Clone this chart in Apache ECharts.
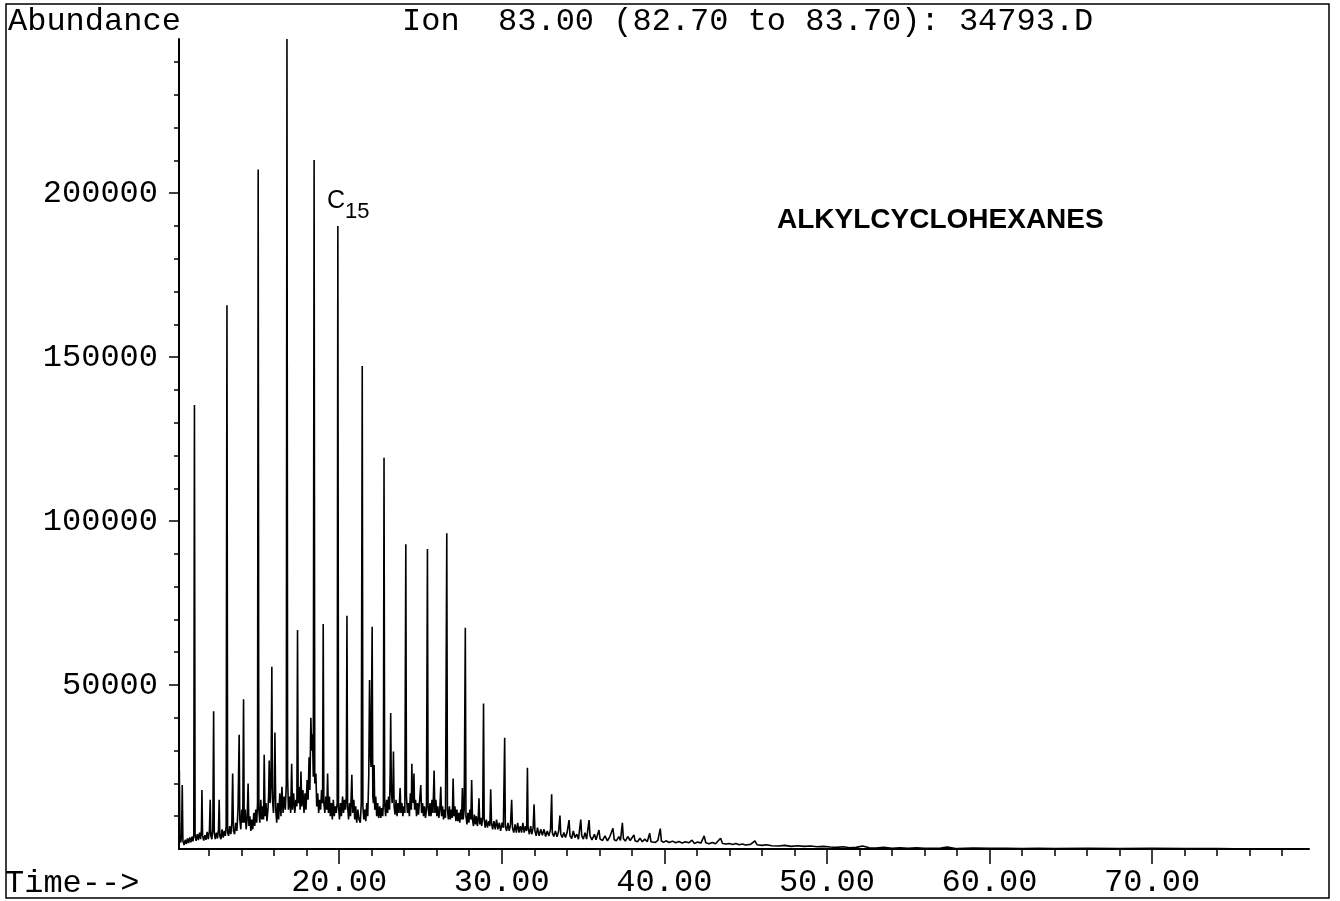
<!DOCTYPE html>
<html lang="en">
<head>
  <meta charset="UTF-8">
  <title>Ion 83.00 - 34793.D</title>
  <script src="https://cdn.jsdelivr.net/npm/echarts@6/dist/echarts.min.js"></script>
  <style>
    body { margin: 0; padding: 0; background: #fff; }
    #chart { width: 1340px; height: 901px; }
  </style>
</head>
<body>
<div id="chart"></div>
<script>
  // trace: [time (min), abundance]
  const traceEarly = [
    [10.15,1500],[10.17,24000],[10.21,3000],[10.26,2000],[10.31,4500],[10.35,19500],[10.39,2500],[10.46,1200],
    [10.53,2800],[10.60,1500],[10.67,3200],[10.74,1800],[10.81,3500],[10.88,2000],[10.95,3800],[11.01,2300],
    [11.06,4500],[11.10,135400],[11.14,4000],[11.20,2500],[11.27,4500],[11.34,2700],[11.41,5000],[11.48,3000],
    [11.53,6000],[11.56,18000],[11.60,4000],[11.67,2600],[11.74,4200],[11.81,2800],[11.88,5200],[11.95,3000],
    [12.02,5500],[12.07,15000],[12.11,4000],[12.17,3000],[12.23,6000],[12.28,42000],[12.32,5000],[12.38,3000],
    [12.45,5000],[12.52,3200],[12.58,6000],[12.62,15000],[12.66,4000],[12.73,3000],[12.80,6000],[12.87,3500],
    [12.94,5500],[13.00,4000],[13.05,7000],[13.10,165800],[13.14,5000],[13.20,4000],[13.27,7000],[13.34,4500],
    [13.40,8000],[13.45,23000],[13.50,5500],[13.57,4500],[13.64,8000],[13.71,5500],[13.78,12000],[13.85,34800],
    [13.89,9000],[13.95,6000],[14.01,12000],[14.07,8000],[14.12,45700],[14.16,8000],[14.22,12000],[14.28,6000],
    [14.34,9000],[14.40,20000],[14.45,7000],[14.51,10000],[14.57,5500],[14.63,9000],[14.69,6000],[14.75,11000],
    [14.81,7000],[14.87,12000],[14.93,8000],[14.98,14000],[15.02,207200],[15.06,12000],[15.12,8000],[15.18,15000],
    [15.24,9000],[15.30,13000],[15.35,9000],[15.39,28700],[15.44,10000],[15.50,14000],[15.56,8500],[15.62,12000],
    [15.66,16000],[15.70,27000],[15.75,14000],[15.81,20000],[15.86,55600],[15.90,15000],[15.96,11000],[16.01,18000],
    [16.05,35500],[16.10,12000],[16.16,8000],[16.22,14000],[16.28,9000],[16.35,17000],[16.42,10000],[16.48,19000],
    [16.55,11000],[16.62,16000],[16.69,12000],[16.75,20000],[16.79,247000],[16.83,22000],[16.88,12000],[16.95,16000],
    [17.02,11000],[17.08,26000],[17.13,12000],[17.20,17000],[17.27,11000],[17.34,15000],[17.40,13000],[17.44,66800],
    [17.48,14000],[17.55,19000],[17.60,12000],[17.65,23600],[17.70,13000],[17.77,18000],[17.84,11000],[17.90,17000],
    [17.96,12000],[18.03,21000],[18.09,15000],[18.15,28000],[18.20,18000],[18.26,40000],[18.31,30000],[18.36,35000],
    [18.41,22000],[18.46,210100],[18.50,20000],[18.57,23000],[18.62,13000],[18.68,17000],[18.74,11000],[18.80,15000],
    [18.86,12000],[18.92,18000],[18.98,14000],[19.02,68600],[19.06,14000],[19.12,11000],[19.18,16000],[19.24,12000],
    [19.29,23000],[19.34,11000],[19.40,16000],[19.46,10000],[19.52,14000],[19.58,9000],[19.64,15000],[19.70,10000],
    [19.76,13000],[19.82,11000],[19.88,14000],[19.92,190000],[19.96,13000]
  ];

  const traceMid = [
    [20.02,9000],[20.08,14000],[20.14,10000],[20.21,16000],[20.27,11000],[20.33,15000],[20.39,12000],[20.44,16000],
    [20.48,71100],[20.52,13000],[20.58,9000],[20.64,14000],[20.70,10000],[20.78,22600],[20.83,11000],[20.90,15000],
    [20.96,9000],[21.02,13000],[21.08,8000],[21.15,12000],[21.22,9000],[21.30,8000],[21.36,14000],[21.42,147300],
    [21.46,13000],[21.52,9000],[21.58,12000],[21.64,8500],[21.70,14000],[21.76,10000],[21.82,22000],[21.87,51500],
    [21.91,30000],[21.96,25000],[22.03,67800],[22.07,16000],[22.11,14000],[22.15,25600],[22.19,12000],[22.25,16000],
    [22.31,10000],[22.37,14000],[22.43,9500],[22.50,13000],[22.56,9500],[22.62,12500],[22.68,10000],[22.72,14000],
    [22.76,119300],[22.80,14000],[22.86,10000],[22.92,15000],[22.98,11000],[23.04,16000],[23.10,12000],[23.14,24000],
    [23.17,41500],[23.21,18000],[23.26,14000],[23.31,20000],[23.34,29700],[23.38,13000],[23.44,10500],[23.50,15000],
    [23.56,10000],[23.62,14000],[23.68,11000],[23.75,18600],[23.80,11000],[23.86,14000],[23.92,10000],[23.98,13000],
    [24.04,11000],[24.10,92900],[24.14,16000],[24.20,11000],[24.26,14000],[24.32,10000],[24.38,17000],[24.44,12000],
    [24.47,26000],[24.51,16000],[24.56,14000],[24.60,23000],[24.64,12000],[24.70,15000],[24.76,10000],[24.82,14000],
    [24.88,10500],[24.95,15000],[25.02,19500],[25.07,11000],[25.13,14000],[25.19,10000],[25.25,13000],[25.31,9500],
    [25.37,12000],[25.43,91500],[25.47,13000],[25.53,10000],[25.59,14000],[25.65,10000],[25.71,15000],[25.77,11000],
    [25.84,23900],[25.89,11000],[25.95,15000],[26.01,10000],[26.07,13000],[26.13,9500],[26.19,12000],[26.25,19000],
    [26.30,10000],[26.36,13000],[26.42,9000],[26.48,12000],[26.54,9500],[26.62,96300],[26.66,12000],[26.72,9000],
    [26.78,13000],[26.84,9000],[26.90,12000],[26.96,9500],[27.01,21500],[27.06,10000],[27.12,13000],[27.18,8500],
    [27.24,12000],[27.30,8500],[27.36,11000],[27.42,8000],[27.48,12000],[27.53,9000],[27.58,18600],[27.63,9000],
    [27.69,12000],[27.76,67500],[27.80,10000],[27.86,7500],[27.92,11000],[27.98,8000],[28.04,12000],[28.10,9000],
    [28.15,21000],[28.20,9000],[28.26,7000],[28.32,10500],[28.38,7500],[28.44,10000],[28.50,7000],[28.55,9000],
    [28.60,15500],[28.65,7500],[28.71,9500],[28.77,7000],[28.83,10000],[28.88,44400],[28.92,9000],[28.98,6500],
    [29.05,9000],[29.12,6500],[29.20,8500],[29.27,7000],[29.32,18200],[29.37,8000],[29.44,6000],[29.52,8500],
    [29.60,6000],[29.68,9000],[29.76,6000],[29.85,8000],[29.93,5500]
  ];

  const traceLate = [
    [30.02,8000],[30.10,6500],[30.18,33900],[30.22,7000],[30.30,5500],[30.38,8000],[30.46,5500],[30.54,7500],
    [30.61,15000],[30.66,6500],[30.74,5000],[30.82,7500],[30.90,5000],[30.98,8000],[31.06,5000],[31.14,7000],
    [31.22,5000],[31.30,8000],[31.38,5000],[31.46,7000],[31.53,5500],[31.58,24800],[31.62,6500],[31.70,4500],
    [31.78,7000],[31.85,4500],[31.93,6500],[31.99,13600],[32.04,5500],[32.12,4000],[32.20,6500],[32.30,4000],
    [32.40,6000],[32.50,4200],[32.60,6000],[32.70,3800],[32.80,5500],[32.90,4000],[33.00,6000],[33.07,16700],
    [33.11,5000],[33.20,3800],[33.30,5500],[33.40,3700],[33.50,5500],[33.58,10200],[33.63,4500],[33.72,3500],
    [33.82,5000],[33.92,3500],[34.02,5000],[34.14,8800],[34.20,4000],[34.30,3200],[34.40,5500],[34.50,3500],
    [34.62,4500],[34.72,3000],[34.86,9000],[34.92,4000],[35.02,3000],[35.12,5000],[35.22,3000],[35.37,8800],
    [35.43,4000],[35.55,2800],[35.70,4500],[35.80,2800],[35.98,5800],[36.05,3000],[36.20,2600],[36.35,4000],
    [36.50,2500],[36.65,3800],[36.84,6300],[36.92,2800],[37.05,2500],[37.20,3800],[37.30,2600],[37.42,8000],
    [37.48,3200],[37.60,2400],[37.75,3800],[37.90,2600],[38.13,4300],[38.20,2500],[38.35,2200],[38.50,3300],
    [38.65,2200],[38.80,3000],[38.95,2200],[39.10,4800],[39.18,2200],[39.30,2500],[39.45,2000],[39.60,2600],
    [39.75,6200],[39.82,2500],[39.95,2000],[40.10,2500],[40.30,2000],[40.50,2400],[40.70,1900],[40.90,2300],
    [41.10,1800],[41.30,2200],[41.50,1900],[41.70,2700],[41.85,1700],[42.05,2100],[42.25,1800],[42.45,4000],
    [42.55,1900],[42.75,1600],[42.95,2000],[43.15,1600],[43.46,3300],[43.58,1700],[43.80,1500],[44.00,1700],
    [44.20,1400],[44.40,1700],[44.60,1300],[44.80,1500],[45.00,1200],[45.30,1400],[45.57,2500],[45.70,1300],
    [46.00,1100],[46.30,1300],[46.60,1000],[47.00,900],[47.40,1100],[47.80,800],[48.20,1000],[48.60,800],
    [49.00,900],[49.40,700],[49.80,800],[50.20,600],[50.60,500],[51.00,700],[51.40,400],[51.80,500],
    [52.20,900],[52.60,400],[53.00,300],[53.50,500],[54.00,200],[54.50,400],[55.00,200],[55.50,400],
    [56.00,200],[57.00,300],[57.40,600],[58.00,100],[59.00,300],[60.00,200],[61.00,200],[62.00,100],
    [63.00,200],[64.00,100],[66.00,200],[68.00,100],[70.00,200],[72.00,100],[74.00,100],[76.00,0],[79.60,0]
  ];

  // axis ticks
  const xMajorTicks = [20, 30, 40, 50, 60, 70];
  const xMinorTicks = [12, 14, 16, 18, 20, 22, 24, 26, 28, 30, 32, 34, 36, 38, 40, 42, 44, 46, 48, 50,
                       52, 54, 56, 58, 60, 62, 64, 66, 68, 70, 72, 74, 76, 78];
  const yMajorTicks = [50000, 100000, 150000, 200000];
  const yMinorTicks = [10000, 20000, 30000, 40000, 50000, 60000, 70000, 80000, 90000, 100000, 110000, 120000,
                       130000, 140000, 150000, 160000, 170000, 180000, 190000, 200000, 210000, 220000, 230000, 240000];

  const mono = '"Liberation Mono", "Courier New", monospace';
  const sans = '"Liberation Sans", Arial, sans-serif';
  const xMin = 10.15, xMax = 79.65, yMax = 247000;

  const chart = echarts.init(document.getElementById('chart'));

  const option = {
    animation: false,
    backgroundColor: '#fff',
    grid: { left: 179, right: 31, top: 39, bottom: 52 },
    xAxis: [
      {
        type: 'value', min: xMin, max: xMax, position: 'bottom',
        axisLine: { show: true, lineStyle: { color: '#000', width: 2 } },
        axisTick: { show: true, customValues: xMinorTicks, length: 7, lineStyle: { color: '#000', width: 1.5 } },
        axisLabel: { show: false },
        splitLine: { show: false }
      },
      {
        type: 'value', min: xMin, max: xMax, position: 'bottom',
        axisLine: { show: false },
        axisTick: { show: true, customValues: xMajorTicks, length: 15, lineStyle: { color: '#000', width: 1.5 } },
        axisLabel: {
          show: true, customValues: xMajorTicks, margin: 18,
          color: '#000', fontFamily: mono, fontSize: 32,
          formatter: v => v.toFixed(2)
        },
        splitLine: { show: false }
      }
    ],
    yAxis: [
      {
        type: 'value', min: 0, max: yMax, position: 'left',
        axisLine: { show: true, lineStyle: { color: '#000', width: 2 } },
        axisTick: { show: true, customValues: yMinorTicks, length: 5, lineStyle: { color: '#000', width: 1.5 } },
        axisLabel: { show: false },
        splitLine: { show: false }
      },
      {
        type: 'value', min: 0, max: yMax, position: 'left',
        axisLine: { show: false },
        axisTick: { show: true, customValues: yMajorTicks, length: 10, lineStyle: { color: '#000', width: 1.5 } },
        axisLabel: {
          show: true, customValues: yMajorTicks, margin: 21,
          color: '#000', fontFamily: mono, fontSize: 32,
          formatter: v => String(v)
        },
        splitLine: { show: false }
      }
    ],
    graphic: [
      { type: 'rect', shape: { x: 6, y: 4, width: 1323, height: 894 }, style: { fill: 'none', stroke: '#000', lineWidth: 1.5 }, silent: true },
      { type: 'text', left: 8, top: 6, style: { text: 'Abundance', font: '32px ' + mono, fill: '#000' } },
      { type: 'text', left: 402, top: 6, style: { text: 'Ion  83.00 (82.70 to 83.70): 34793.D', font: '32px ' + mono, fill: '#000' } },
      { type: 'text', left: 5, top: 868, style: { text: 'Time-->', font: '32px ' + mono, fill: '#000' } },
      { type: 'text', left: 777, top: 206, style: { text: 'ALKYLCYCLOHEXANES', font: 'bold 28px ' + sans, fill: '#000' } },
      { type: 'text', left: 327, top: 189, style: { text: 'C', font: '25px ' + sans, fill: '#000' } },
      { type: 'text', left: 345, top: 201, style: { text: '15', font: '22px ' + sans, fill: '#000' } }
    ],
    series: [
      {
        type: 'line',
        xAxisIndex: 0,
        yAxisIndex: 0,
        data: traceEarly.concat(traceMid, traceLate),
        showSymbol: false,
        symbol: 'none',
        sampling: null,
        lineStyle: { color: '#000', width: 1.6 },
        clip: true
      }
    ]
  };

  chart.setOption(option);
</script>
</body>
</html>
